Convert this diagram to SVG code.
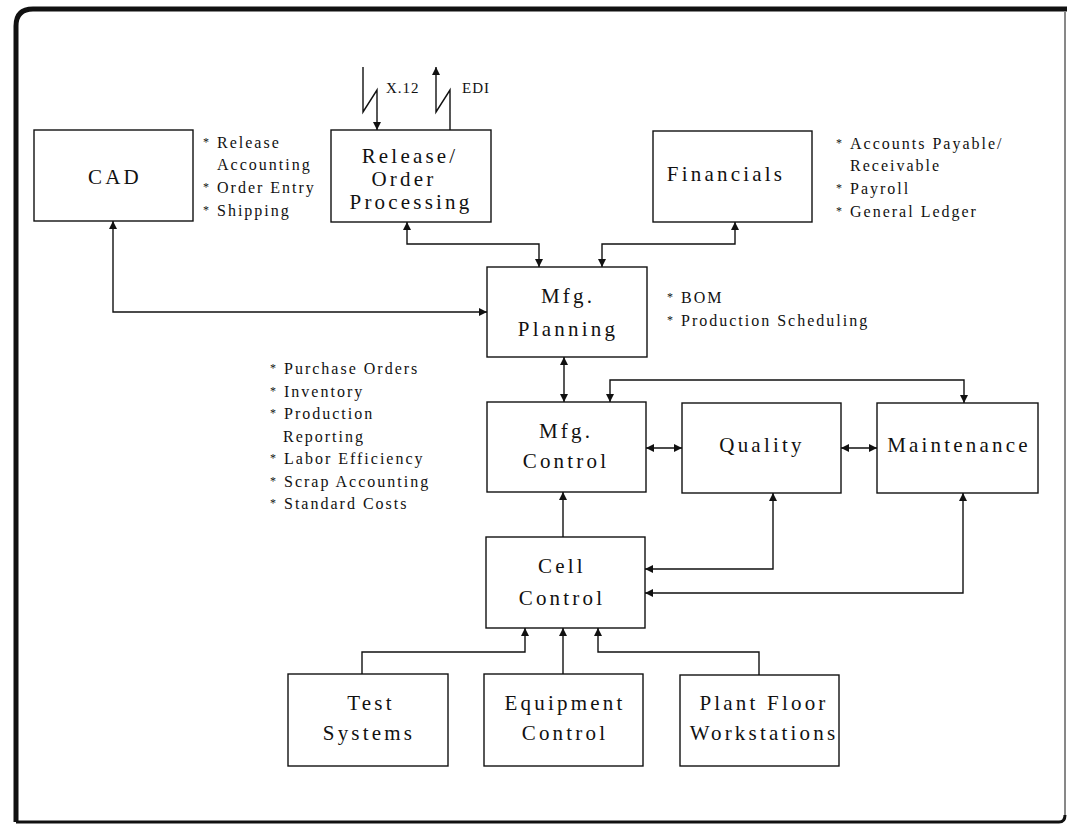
<svg xmlns="http://www.w3.org/2000/svg" width="1067" height="825" viewBox="0 0 1067 825">
  <style>
    .box { fill: #fff; stroke: #111; stroke-width: 1.4; }
    .lbl { font-family: "Liberation Serif", "Times New Roman", serif; font-size: 21px; letter-spacing: 3.2px; fill: #111; text-anchor: middle; }
    .note { font-family: "Liberation Serif", "Times New Roman", serif; font-size: 16px; letter-spacing: 2px; fill: #111; }
    .tag { font-family: "Liberation Serif", "Times New Roman", serif; font-size: 15px; letter-spacing: 1px; fill: #111; }
    .bul { font-size: 12px; letter-spacing: 0; }
    .wire { fill: none; stroke: #111; stroke-width: 1.4; }
    .frame { fill: none; stroke: #111; }
  </style>
  <defs>
    <marker id="ah" viewBox="0 0 10 10" refX="10" refY="5" markerWidth="8" markerHeight="8" markerUnits="userSpaceOnUse" orient="auto-start-reverse">
      <path d="M0,0 L10,5 L0,10 z" fill="#111"/>
    </marker>
  </defs>

  <rect width="1067" height="825" fill="#fff"/>

  <!-- page frame -->
  <g id="frame">
    <path class="frame" stroke-width="5" d="M16,822 L16,26 Q16,9 33,9 L1067,9"/>
    <path class="frame" stroke-width="3" d="M16,822 L1059,822 Q1065,822 1065,815"/>
    <path class="frame" stroke-width="1" stroke="#777" d="M1065,12 L1065,815"/>
  </g>

  <!-- connectors -->
  <g id="connectors">
    <polyline class="wire" points="363,67 363,112 377,90 377,130" marker-end="url(#ah)"/>
    <polyline class="wire" points="450,130 450,90 436,112 436,67" marker-end="url(#ah)"/>
    <polyline class="wire" points="113,221 113,312 487,312" marker-start="url(#ah)" marker-end="url(#ah)"/>
    <polyline class="wire" points="407,222 407,244 539,244 539,267" marker-start="url(#ah)" marker-end="url(#ah)"/>
    <polyline class="wire" points="735,222 735,244 602,244 602,267" marker-start="url(#ah)" marker-end="url(#ah)"/>
    <polyline class="wire" points="564,357 564,402" marker-start="url(#ah)" marker-end="url(#ah)"/>
    <polyline class="wire" points="610,402 610,380 964,380 964,403" marker-start="url(#ah)" marker-end="url(#ah)"/>
    <polyline class="wire" points="646,448 682,448" marker-start="url(#ah)" marker-end="url(#ah)"/>
    <polyline class="wire" points="841,448 877,448" marker-start="url(#ah)" marker-end="url(#ah)"/>
    <polyline class="wire" points="563,537 563,492" marker-end="url(#ah)"/>
    <polyline class="wire" points="773,493 773,569 645,569" marker-start="url(#ah)" marker-end="url(#ah)"/>
    <polyline class="wire" points="963,493 963,593 645,593" marker-start="url(#ah)" marker-end="url(#ah)"/>
    <polyline class="wire" points="362,674 362,652 525,652 525,628" marker-end="url(#ah)"/>
    <polyline class="wire" points="563,674 563,628" marker-end="url(#ah)"/>
    <polyline class="wire" points="759,675 759,652 598,652 598,628" marker-end="url(#ah)"/>
  </g>

  <!-- link labels -->
  <g id="edi-labels">
    <text class="tag" x="386" y="93">X.12</text>
    <text class="tag" x="462" y="93">EDI</text>
  </g>

  <!-- nodes -->
  <g id="cad">
    <rect class="box" x="34" y="130" width="159" height="91"/>
    <text class="lbl" x="115" y="184">CAD</text>
  </g>
  <g id="release-order">
    <rect class="box" x="331" y="130" width="160" height="92"/>
    <text class="lbl" x="410" y="163">Release/</text>
    <text class="lbl" x="404" y="186">Order</text>
    <text class="lbl" x="411" y="209">Processing</text>
  </g>
  <g id="financials">
    <rect class="box" x="653" y="131" width="159" height="91"/>
    <text class="lbl" x="726" y="181">Financials</text>
  </g>
  <g id="mfg-planning">
    <rect class="box" x="487" y="267" width="160" height="90"/>
    <text class="lbl" x="568" y="303">Mfg.</text>
    <text class="lbl" x="568" y="336">Planning</text>
  </g>
  <g id="mfg-control">
    <rect class="box" x="487" y="402" width="159" height="90"/>
    <text class="lbl" x="566" y="438">Mfg.</text>
    <text class="lbl" x="566" y="468">Control</text>
  </g>
  <g id="quality">
    <rect class="box" x="682" y="403" width="159" height="90"/>
    <text class="lbl" x="762" y="452">Quality</text>
  </g>
  <g id="maintenance">
    <rect class="box" x="877" y="403" width="161" height="90"/>
    <text class="lbl" x="959" y="452">Maintenance</text>
  </g>
  <g id="cell-control">
    <rect class="box" x="486" y="537" width="159" height="91"/>
    <text class="lbl" x="562" y="573">Cell</text>
    <text class="lbl" x="562" y="605">Control</text>
  </g>
  <g id="test-systems">
    <rect class="box" x="288" y="674" width="160" height="92"/>
    <text class="lbl" x="371" y="710">Test</text>
    <text class="lbl" x="369" y="740">Systems</text>
  </g>
  <g id="equipment-control">
    <rect class="box" x="484" y="674" width="159" height="92"/>
    <text class="lbl" x="565" y="710">Equipment</text>
    <text class="lbl" x="565" y="740">Control</text>
  </g>
  <g id="plant-floor">
    <rect class="box" x="680" y="675" width="159" height="91"/>
    <text class="lbl" x="764" y="710">Plant Floor</text>
    <text class="lbl" x="764" y="740">Workstations</text>
  </g>

  <!-- bullet notes -->
  <g id="notes-cad">
    <text class="note"><tspan class="bul" x="203" y="146">*</tspan><tspan x="217" y="148">Release</tspan></text>
    <text class="note" x="217" y="170">Accounting</text>
    <text class="note"><tspan class="bul" x="203" y="191">*</tspan><tspan x="217" y="193">Order Entry</tspan></text>
    <text class="note"><tspan class="bul" x="203" y="214">*</tspan><tspan x="217" y="216">Shipping</tspan></text>
  </g>
  <g id="notes-financials">
    <text class="note"><tspan class="bul" x="836" y="147">*</tspan><tspan x="850" y="149">Accounts Payable/</tspan></text>
    <text class="note" x="850" y="171">Receivable</text>
    <text class="note"><tspan class="bul" x="836" y="192">*</tspan><tspan x="850" y="194">Payroll</tspan></text>
    <text class="note"><tspan class="bul" x="836" y="215">*</tspan><tspan x="850" y="217">General Ledger</tspan></text>
  </g>
  <g id="notes-planning">
    <text class="note"><tspan class="bul" x="667" y="301">*</tspan><tspan x="681" y="303">BOM</tspan></text>
    <text class="note"><tspan class="bul" x="667" y="324">*</tspan><tspan x="681" y="326">Production Scheduling</tspan></text>
  </g>
  <g id="notes-control">
    <text class="note"><tspan class="bul" x="270" y="372">*</tspan><tspan x="284" y="374">Purchase Orders</tspan></text>
    <text class="note"><tspan class="bul" x="270" y="395">*</tspan><tspan x="284" y="397">Inventory</tspan></text>
    <text class="note"><tspan class="bul" x="270" y="417">*</tspan><tspan x="284" y="419">Production</tspan></text>
    <text class="note" x="283" y="442">Reporting</text>
    <text class="note"><tspan class="bul" x="270" y="462">*</tspan><tspan x="284" y="464">Labor Efficiency</tspan></text>
    <text class="note"><tspan class="bul" x="270" y="485">*</tspan><tspan x="284" y="487">Scrap Accounting</tspan></text>
    <text class="note"><tspan class="bul" x="270" y="507">*</tspan><tspan x="284" y="509">Standard Costs</tspan></text>
  </g>
</svg>
